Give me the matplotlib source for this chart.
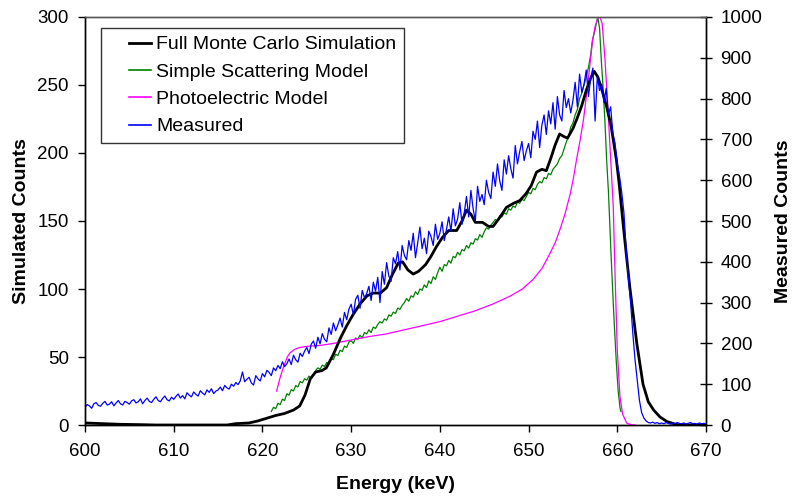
import numpy as np
import matplotlib
matplotlib.use("Agg")
import matplotlib.pyplot as plt

plt.rcParams['font.family'] = ['Liberation Sans', 'DejaVu Sans']

# ---------------- data ----------------
# Full Monte Carlo simulation (left axis)
mc_energy = [600, 602, 604, 606, 608, 612, 616, 617, 618.5, 619.5, 620.5, 621.5, 622.5,
             623.5, 624.2, 624.8, 625.4, 626.0, 626.7, 627.2, 628.0, 628.8, 629.5, 630.2,
             631.0, 631.8, 632.5, 633.3, 634.0, 634.6, 635.3, 635.8, 636.4, 637.0, 637.6,
             638.4, 639.0, 639.6, 640.3, 641.0, 641.9, 642.5, 643.0, 643.5, 644.0, 644.8,
             645.5, 646.0, 646.8, 647.5, 648.3, 649.0, 649.7, 650.3, 650.9, 651.5, 652.0,
             652.5, 653.0, 653.5, 654.0, 654.4, 655.0, 655.5, 656.0, 656.5, 657.0, 657.4,
             657.8, 658.2, 658.8, 659.3, 659.9, 660.2, 660.7, 661.4, 662.2, 662.9, 663.5,
             664.1, 664.8, 665.6, 666.7, 668, 670]
mc_counts = [1.5, 1, 0.5, 0.3, 0, 0, 0, 1, 1.5, 3, 5, 7, 8.5,
             11, 14, 22, 34, 39, 40, 42, 52, 64, 73, 81,
             89, 95, 97, 97, 101, 110, 119, 120, 114, 111, 113,
             118, 124, 131, 138, 143, 143, 150, 158, 155, 149, 149,
             146, 146, 153, 160, 163, 165, 170, 176, 186, 188, 187,
             196, 206, 214, 212, 211, 218, 226, 235, 246, 255, 260,
             256, 248, 234, 220, 195, 178, 145, 102, 60, 30, 17,
             11, 6, 2.5, 0.3, 0, 0]

# Simple scattering model (left axis): 0.25 keV bins from 621.0 to 655.75, then the peak
ssm_start = 621.0
ssm_step = 0.25
ssm_rise = [10, 13, 12, 16, 15, 19, 18, 23, 22, 26, 25, 29, 28, 32, 31, 34, 33, 36, 34, 37,
            40, 42, 41, 44, 43, 46, 45, 49, 48, 52, 51, 55, 54, 58, 57, 61, 62, 60, 64, 63,
            66, 64, 68, 67, 70, 68, 72, 71, 74, 76, 75, 78, 77, 81, 80, 83, 82, 86, 85, 88,
            90, 93, 91, 95, 94, 98, 96, 100, 99, 103, 101, 106, 104, 109, 107, 112, 116, 113, 118, 117,
            121, 119, 124, 123, 127, 125, 129, 128, 132, 130, 134, 133, 137, 136, 140, 138, 142, 145, 144, 147,
            149, 151, 150, 154, 153, 156, 155, 159, 158, 161, 160, 164, 163, 166, 165, 168, 171, 170, 174, 173,
            177, 179, 178, 182, 181, 185, 184, 188, 190, 192, 196, 198, 203, 208, 212, 219, 222, 228, 232, 240]
ssm_peak_energy = [656.0, 656.25, 656.5, 656.75, 657.0, 657.2, 657.4, 657.6, 657.8, 658.0,
                   658.2, 658.4, 658.6, 658.8, 659.0, 659.3, 659.6, 659.9, 660.1, 660.3, 660.4]
ssm_peak_counts = [244, 250, 256, 263, 272, 283, 288, 294, 300, 292,
                   268, 248, 224, 195, 172, 125, 82, 45, 25, 13, 10]

# Photoelectric model (left axis)
pe_energy = [621.6, 622.0, 622.4, 622.8, 623.1, 623.6, 624.2, 625.0, 626.5, 628, 630, 632,
             634, 636, 638, 640, 642, 644, 646, 648, 649.3, 650.5, 651.5, 652.4, 653.0,
             653.5, 654.1, 654.7, 655.1, 655.4, 655.8, 656.2, 656.5, 656.8, 657.2, 657.5,
             657.8, 658.05, 658.3, 658.6, 658.9, 659.2, 659.55, 659.75, 660.0, 660.3, 660.6,
             661.06, 661.5, 662]
pe_counts = [25, 35, 43, 50, 53, 55.5, 57, 57.8, 58.5, 60, 62.5, 65,
             67, 70, 73, 76, 80, 84, 89, 95, 100, 107, 115, 126, 134,
             143, 155, 170, 183, 195, 209, 225, 241, 258, 282, 293,
             299, 300, 295, 270, 238, 202, 160, 110, 55, 21, 8,
             1.4, 0.3, 0]

# Measured (right axis): 0.25 keV bins from 600.0 to 670.0
meas_start = 600.0
meas_step = 0.25
meas_counts = [
    44, 50, 47, 41, 52, 55, 48, 46, 53, 58, 49, 51, 57, 47, 54, 60, 52, 49, 58, 55,
    51, 59, 62, 54, 57, 64, 52, 60, 66, 58, 55, 63, 69, 60, 57, 65, 71, 62, 59, 68,
    63, 70, 76, 66, 72, 64, 79, 73, 69, 81, 75, 71, 84, 78, 74, 86, 80, 89, 77, 83,
    86, 93, 84, 97, 91, 88, 100, 95, 104, 99, 108, 130, 106, 112, 117, 103, 98, 121, 113, 108,
    126, 118, 134, 129, 121, 140, 133, 146, 138, 155, 143, 150, 162, 148, 171, 160, 154, 176, 168, 181,
    190, 175, 198, 206, 188, 215, 199, 224, 210, 204, 238, 222, 250, 231, 245, 262, 240, 276, 258, 284,
    296, 270, 308, 318, 286, 330, 312, 322, 340, 305, 350, 328, 362, 300, 376, 345, 398, 365, 352, 410,
    395, 425, 380, 440, 416, 405, 452, 428, 470, 410, 446, 485, 432, 458, 420, 475, 462, 440, 492, 455,
    470, 498, 452, 480, 510, 475, 530, 488, 505, 545, 492, 520, 560, 510, 575, 530, 500, 585, 548, 565,
    540, 600, 570, 555, 620, 585, 640, 598, 575, 650, 615, 660, 628, 605, 685, 640, 670, 695, 648, 672,
    690, 655, 720, 700, 745, 680, 735, 760, 712, 770, 738, 790, 725, 805, 760, 745, 820, 778, 800, 765,
    795, 840, 780, 860, 815, 835, 870, 805, 850, 875, 745, 855, 820, 835, 790, 825, 760, 780, 715, 690,
    640, 610, 570, 520, 430, 360, 300, 225, 160, 110, 60, 30, 17, 10, 6, 5, 7, 4, 6, 3,
    5, 3, 6, 4, 2, 5, 3, 6, 4, 3, 5, 2, 4, 6, 3, 4, 2, 5, 3, 4, 3]

x_ticks = [600, 610, 620, 630, 640, 650, 660, 670]
left_ticks = [0, 50, 100, 150, 200, 250, 300]
right_ticks = [0, 100, 200, 300, 400, 500, 600, 700, 800, 900, 1000]

# ---------------- plot ----------------
fig = plt.figure(figsize=(7.93, 4.97), dpi=100)
ax = fig.add_axes([85 / 793, 72 / 497, 621 / 793, 408 / 497])
ax2 = ax.twinx()

ssm_energy = list(ssm_start + ssm_step * np.arange(len(ssm_rise))) + ssm_peak_energy
ssm_counts = ssm_rise + ssm_peak_counts
meas_energy = meas_start + meas_step * np.arange(len(meas_counts))

h1, = ax.plot(mc_energy, mc_counts, color='black', lw=2.0, label='Full Monte Carlo Simulation', zorder=4)
h2, = ax.plot(ssm_energy, ssm_counts, color='#008000', lw=0.9, label='Simple Scattering Model', zorder=3)
h3, = ax.plot(pe_energy, pe_counts, color='#FF00FF', lw=0.9, label='Photoelectric Model', zorder=3)
h4, = ax2.plot(meas_energy, meas_counts, color='#0000FF', lw=0.9, label='Measured', zorder=2)

ax.set_xlim(600, 670)
ax.set_ylim(0, 300)
ax2.set_ylim(0, 1000)
ax.set_xticks(x_ticks)
ax.set_yticks(left_ticks)
ax2.set_yticks(right_ticks)

ax.tick_params(axis='x', labelsize=13.5, length=4.7, width=1, direction='out', pad=8.5, colors='black')
ax.tick_params(axis='y', labelsize=13.5, length=4.7, width=1, direction='out', pad=7, colors='black')
ax2.tick_params(axis='y', labelsize=13.5, length=9, width=1, direction='inout', pad=6, colors='black')

for a in (ax, ax2):
    for s in a.spines.values():
        s.set_linewidth(1.0)
        s.set_color('black')
ax.spines['top'].set_color('#555555')
ax2.spines['top'].set_color('#555555')

ax.set_xlabel('Energy (keV)', fontsize=14, fontweight='bold')
ax.set_ylabel('Simulated Counts', fontsize=14, fontweight='bold')
ax2.set_ylabel('Measured Counts', fontsize=14, fontweight='bold')
ax.xaxis.set_label_coords(0.5, -0.126)
ax.yaxis.set_label_coords(-0.089, 0.5)
ax2.yaxis.set_label_coords(1.111, 0.5)

leg = ax2.legend(handles=[h1, h2, h3, h4], loc='upper left',
                 bbox_to_anchor=((101 - 85) / 621, (425 - 28) / 408),
                 fontsize=14, frameon=True, fancybox=False, shadow=False,
                 borderpad=0.4, handlelength=2.17, handletextpad=0.26,
                 labelspacing=0.5, borderaxespad=0)
leg.get_frame().set_edgecolor('black')
leg.get_frame().set_linewidth(1.0)
for i, line in enumerate(leg.get_lines()):
    xd = np.asarray(line.get_xdata(), dtype=float)
    x0 = xd[0] + (xd[-1] - xd[0]) * 0.48
    line.set_xdata(np.linspace(x0, xd[-1], len(xd)))
    line.set_linewidth(2.0 if i == 0 else 1.2)

fig.savefig('out.png', dpi=100)
